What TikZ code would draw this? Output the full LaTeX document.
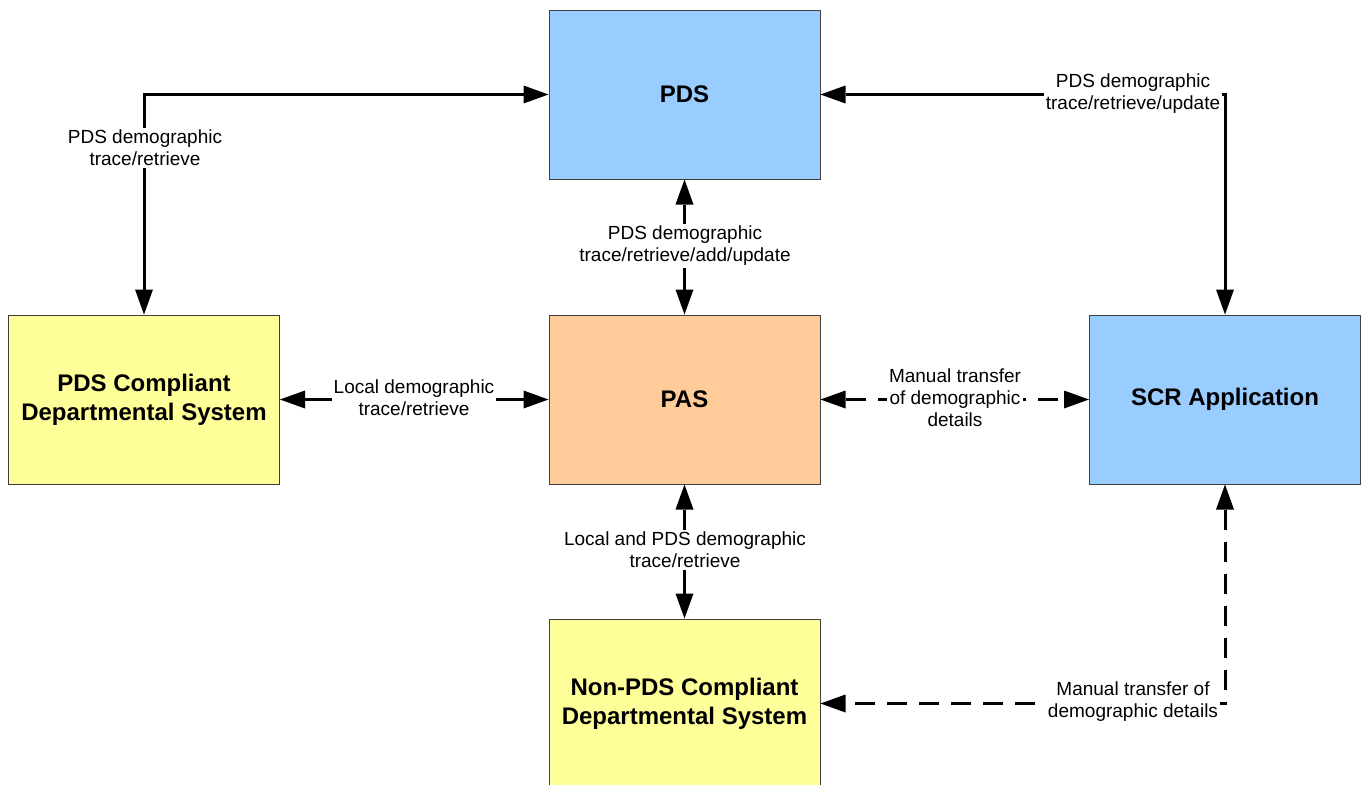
\documentclass[tikz,border=0pt]{standalone}
\usepackage{fontspec}
\setmainfont{Liberation Sans}
\usetikzlibrary{arrows.meta}
\definecolor{sysblue}{HTML}{99CCFF}
\definecolor{sysorange}{HTML}{FFCC99}
\definecolor{sysyellow}{HTML}{FFFF99}
\definecolor{boxline}{HTML}{404040}
\begin{document}
\begin{tikzpicture}[x=0.75pt,y=-0.75pt,
  sysbox/.style={draw=boxline, line width=0.75pt, minimum width=203.25pt,
    minimum height=126.75pt, align=center, inner sep=0pt,
    font=\fontsize{18}{21.75}\selectfont\bfseries},
  tip/.style={Triangle[length=18.75pt,width=13.5pt,line width=0pt]},
  link/.style={line width=2.25pt, {Triangle[length=18.75pt,width=13.5pt,line width=0pt]}-{Triangle[length=18.75pt,width=13.5pt,line width=0pt]}},
  manual/.style={link, dash pattern=on 15pt off 9pt},
  lbl/.style={fill=white, inner sep=1.5pt, align=center,
    font=\fontsize{14.25}{16.5}\selectfont}]
  \useasboundingbox (0,0) rectangle (1365,785);
  \clip (0,0) rectangle (1365,785);

  % systems
  \node[sysbox, fill=sysblue]   (pds)  at (684.5,94.5)  {PDS};
  \node[sysbox, fill=sysyellow] (pdc)  at (144,399.5)   {PDS Compliant\\Departmental System};
  \node[sysbox, fill=sysorange] (pas)  at (684.5,399.5) {PAS};
  \node[sysbox, fill=sysblue]   (scr)  at (1225,399.5)  {SCR Application};
  \node[sysbox, fill=sysyellow] (npds) at (684.5,703.5) {Non-PDS Compliant\\Departmental System};

  % data flows
  \draw[link] (pds.west) -| (pdc.north);
  \draw[link] (pds.east) -| (scr.north);
  \draw[link] (pds.south) -- (pas.north);
  \draw[link] (pdc.east) -- (pas.west);
  \draw[manual] (pas.east) -- (scr.west);
  \draw[link] (pas.south) -- (npds.north);
  \draw[manual] (scr.south) |- (npds.east);

  % flow labels
  \node[lbl] (l1) at (145,148)  {PDS demographic\\trace/retrieve};
  \node[lbl] (l2) at (1133,94)  {PDS demographic\\trace/retrieve/update};
  \node[lbl] (l3) at (685,246)  {PDS demographic\\trace/retrieve/add/update};
  \node[lbl] (l4) at (414,398)  {Local demographic\\trace/retrieve};
  \node[lbl] (l5) at (955,398)  {Manual transfer\\of demographic\\details};
  \node[lbl] (l6) at (685,550)  {Local and PDS demographic\\trace/retrieve};
  \node[lbl] (l7) at (1133,702) {Manual transfer of\\demographic details};
\end{tikzpicture}
\end{document}
